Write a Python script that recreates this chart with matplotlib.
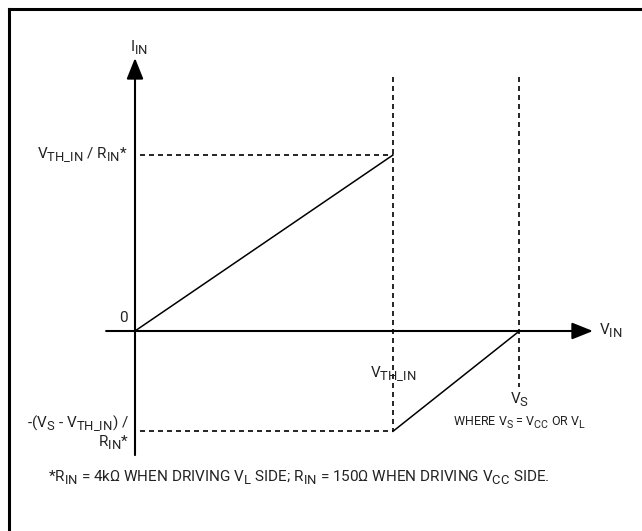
import matplotlib
matplotlib.use("Agg")
import matplotlib.pyplot as plt
import matplotlib._mathtext as mtext
from matplotlib.lines import Line2D

# larger, deeper subscripts like the datasheet lettering
mtext.SHRINK_FACTOR = 0.85
mtext.FontConstantsBase.sub1 = 0.45

plt.rcParams['font.family'] = ['Roboto', 'DejaVu Sans']
plt.rcParams['mathtext.fontset'] = 'custom'
plt.rcParams['mathtext.rm'] = 'Roboto'
plt.rcParams['mathtext.it'] = 'Roboto'
plt.rcParams['mathtext.default'] = 'regular'

# schematic values (V_TH_IN and V_TH_IN/R_IN taken as 1)
v_th = 1.0
v_s = 1.49
i_pos = 1.0
i_neg = -0.57

rise_v = [0, v_th]
rise_i = [0, i_pos]
return_v = [v_th, v_s]
return_i = [i_neg, 0]

TXT = '#222222'
FS = 11

fig = plt.figure(figsize=(6.42, 5.31), dpi=100)
ax = fig.add_axes([0, 0, 1, 1])
ax.set_xlim(-135 / 258, (642 - 135) / 258)
ax.set_ylim(-200 / 176, 331 / 176)
ax.axis('off')

# frame (only top and left edges visible)
fig.add_artist(Line2D([8.5 / 642, 1], [1 - 8.5 / 531, 1 - 8.5 / 531], lw=2.2, color='black'))
fig.add_artist(Line2D([8.5 / 642, 8.5 / 642], [0, 1 - 8.5 / 531], lw=2.2, color='black'))

# axes with arrows
arr = dict(arrowstyle='-|>,head_length=0.4,head_width=0.16', mutation_scale=32,
           lw=1.5, color='black', shrinkA=0, shrinkB=0)
ax.annotate('', xy=(0, 1.551), xytext=(0, -0.705), arrowprops=arr)
ax.annotate('', xy=(1.775, 0), xytext=(-0.112, 0), arrowprops=arr)

# dashed guides
ds = (0, (3.0, 2.4))
ax.plot([0.02, v_th], [i_pos, i_pos], color='black', lw=1.2, ls=ds)
ax.plot([0.02, v_th], [i_neg, i_neg], color='black', lw=1.2, ls=ds)
ax.plot([v_th, v_th], [1.443, i_neg], color='black', lw=1.2, ls=ds)
ax.plot([v_s, v_s], [1.443, -0.318], color='black', lw=1.2, ls=ds)

# characteristic
ax.plot(rise_v, rise_i, color='black', lw=1.1)
ax.plot(return_v, return_i, color='black', lw=1.1)

# labels
ax.text(0.016, 1.608, r'$I_{IN}$', ha='center', va='center', fontsize=FS, color=TXT)
ax.annotate(r'$V_{TH\_IN}$ / $R_{IN}$*', xy=(0, i_pos), xytext=(-5, 0),
            textcoords='offset points', ha='right', va='center', fontsize=FS, color=TXT)
ax.annotate('0', xy=(0, 0), xytext=(-5, 9), textcoords='offset points',
            ha='right', va='center', fontsize=FS, color=TXT)
ax.annotate('-($V_S$ - $V_{TH\\_IN}$) /\n$R_{IN}$*', xy=(0, i_neg), xytext=(-4, -1),
            textcoords='offset points', ha='right', va='center', multialignment='right',
            fontsize=FS, color=TXT, linespacing=1.0)
ax.text(v_th, -0.24, r'$V_{TH\_IN}$', ha='center', va='center', fontsize=FS, color=TXT)
ax.text(v_s, -0.39, r'$V_S$', ha='center', va='center', fontsize=FS, color=TXT)
ax.text(v_s, -0.52, r'WHERE $V_S$ = $V_{CC}$ OR $V_L$', ha='center', va='center',
        fontsize=9, color=TXT)
ax.annotate(r'$V_{IN}$', xy=(1.775, 0), xytext=(4, 0), textcoords='offset points',
            ha='left', va='center', fontsize=FS, color=TXT)

fig.text(48 / 642, 1 - 478 / 531,
         r'*$R_{IN}$ = 4k$\Omega$ WHEN DRIVING $V_L$ SIDE; $R_{IN}$ = 150$\Omega$ WHEN DRIVING $V_{CC}$ SIDE.',
         ha='left', va='center', fontsize=FS, color=TXT)

fig.savefig('out.png', dpi=100)
